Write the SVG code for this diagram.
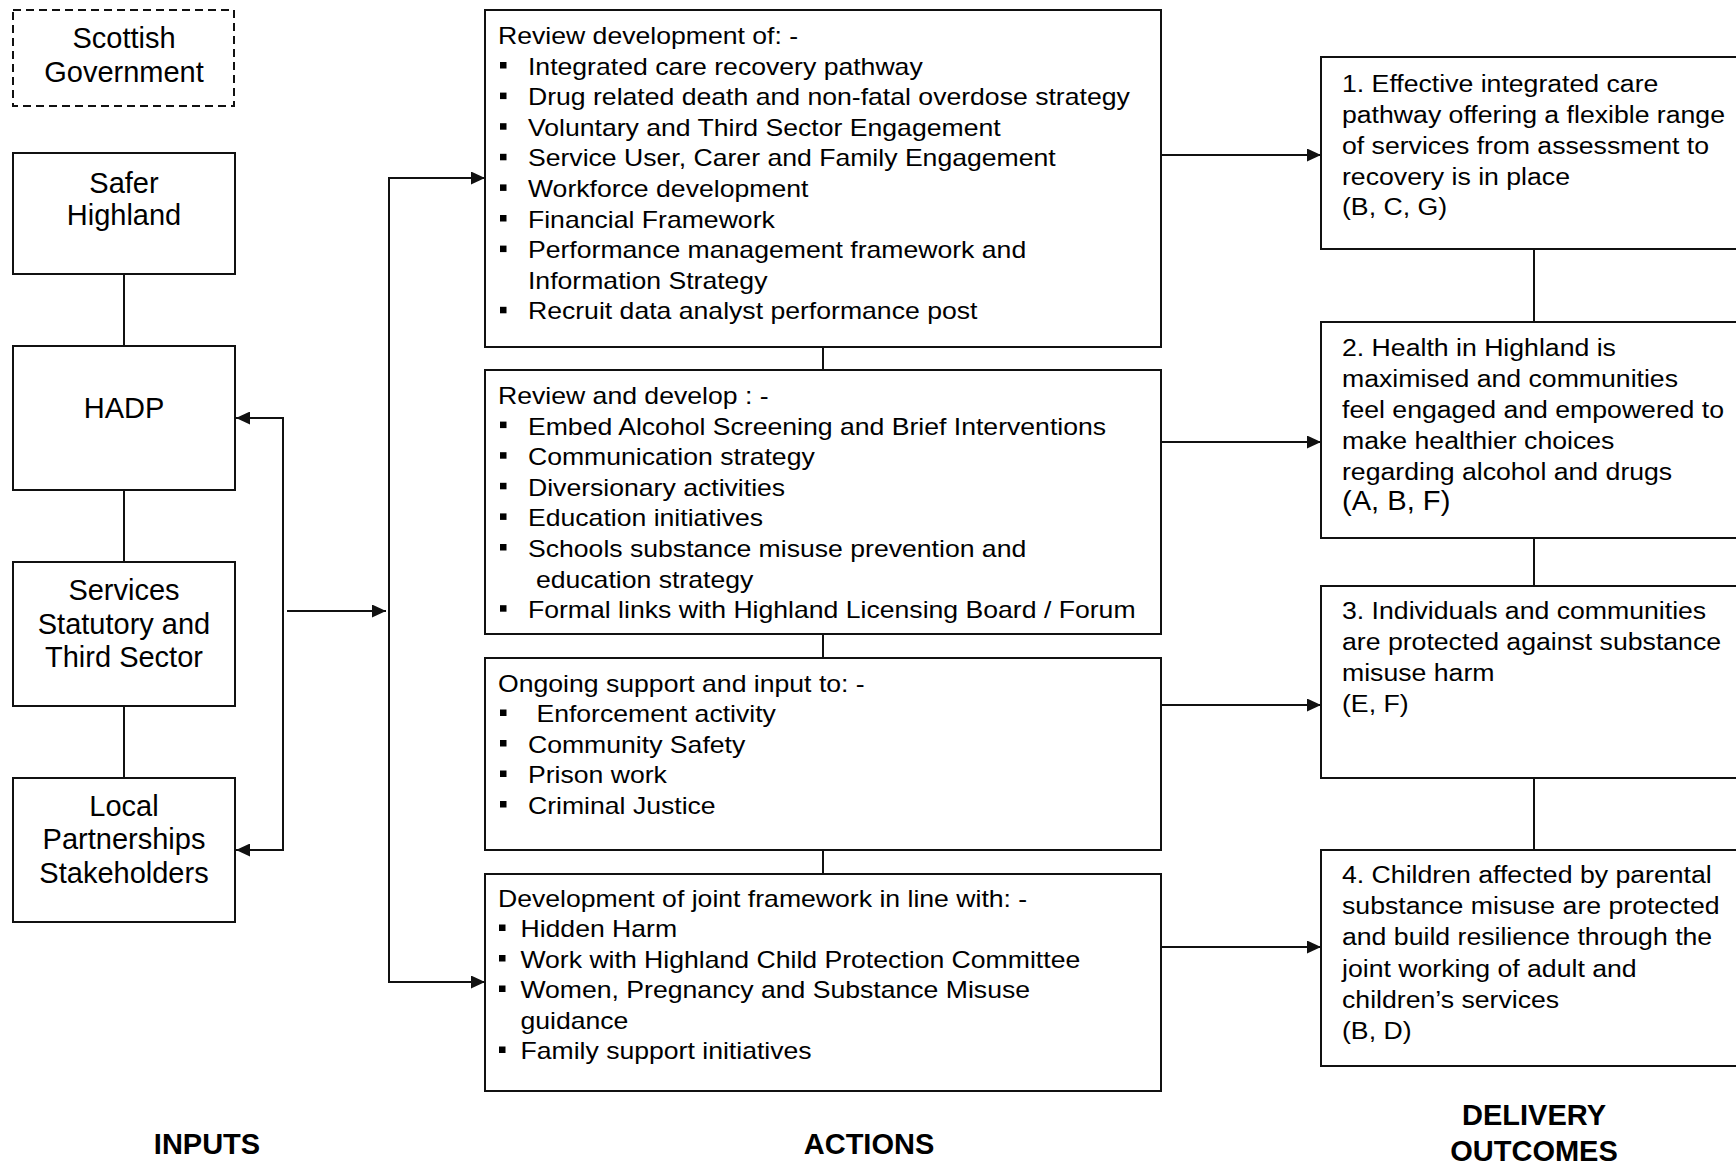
<svg xmlns="http://www.w3.org/2000/svg" width="1736" height="1165" viewBox="0 0 1736 1165">
<style>
.box{fill:#fff;stroke:#111;stroke-width:2}
.dash{fill:#fff;stroke:#111;stroke-width:2;stroke-dasharray:8 5}
.conn{fill:none;stroke:#111;stroke-width:2}
.lbl{font-family:"Liberation Sans",Arial,sans-serif;font-size:29px;text-anchor:middle;fill:#000}
.act{font-family:"Liberation Sans",Arial,sans-serif;font-size:23px;fill:#000}
.out{font-family:"Liberation Sans",Arial,sans-serif;font-size:23.5px;fill:#000}
.hdr{font-family:"Liberation Sans",Arial,sans-serif;font-size:29px;font-weight:bold;text-anchor:middle;fill:#000}
.bul{fill:#000}
</style>
<defs>
<marker id="ah" markerUnits="userSpaceOnUse" markerWidth="14" markerHeight="13" refX="14" refY="6.5" orient="auto-start-reverse">
<path d="M0,0 L14,6.5 L0,13 z" fill="#111"/>
</marker>
<clipPath id="clipB"><rect x="486" y="371" width="674" height="252"/></clipPath>
</defs>
<rect width="1736" height="1165" fill="#fff"/>

<g id="connectors">
<line class="conn" x1="124" y1="274" x2="124" y2="346"/>
<line class="conn" x1="124" y1="490" x2="124" y2="562"/>
<line class="conn" x1="124" y1="706" x2="124" y2="778"/>
<path class="conn" d="M236,418 L283,418 L283,850 L236,850" marker-start="url(#ah)" marker-end="url(#ah)"/>
<line class="conn" x1="287" y1="611" x2="386" y2="611" marker-end="url(#ah)"/>
<path class="conn" d="M485,178 L389,178 L389,982 L485,982" marker-start="url(#ah)" marker-end="url(#ah)"/>
<line class="conn" x1="823" y1="347" x2="823" y2="370"/>
<line class="conn" x1="823" y1="634" x2="823" y2="658"/>
<line class="conn" x1="823" y1="850" x2="823" y2="874"/>
<line class="conn" x1="1162" y1="155" x2="1321" y2="155" marker-end="url(#ah)"/>
<line class="conn" x1="1162" y1="442" x2="1321" y2="442" marker-end="url(#ah)"/>
<line class="conn" x1="1162" y1="705" x2="1321" y2="705" marker-end="url(#ah)"/>
<line class="conn" x1="1162" y1="947" x2="1321" y2="947" marker-end="url(#ah)"/>
<line class="conn" x1="1534" y1="249" x2="1534" y2="322"/>
<line class="conn" x1="1534" y1="538" x2="1534" y2="586"/>
<line class="conn" x1="1534" y1="778" x2="1534" y2="850"/>
</g>

<g id="scottish-government">
<rect class="dash" x="13" y="10" width="221" height="96"/>
<text class="lbl" x="124" y="48">Scottish</text>
<text class="lbl" x="124" y="82">Government</text>
</g>
<g id="safer-highland">
<rect class="box" x="13" y="153" width="222" height="121"/>
<text class="lbl" x="124" y="193">Safer</text>
<text class="lbl" x="124" y="225">Highland</text>
</g>
<g id="hadp">
<rect class="box" x="13" y="346" width="222" height="144"/>
<text class="lbl" x="124" y="418">HADP</text>
</g>
<g id="services">
<rect class="box" x="13" y="562" width="222" height="144"/>
<text class="lbl" x="124" y="600">Services</text>
<text class="lbl" x="124" y="634">Statutory and</text>
<text class="lbl" x="124" y="667">Third Sector</text>
</g>
<g id="local-partnerships">
<rect class="box" x="13" y="778" width="222" height="144"/>
<text class="lbl" x="124" y="816">Local</text>
<text class="lbl" x="124" y="849">Partnerships</text>
<text class="lbl" x="124" y="883">Stakeholders</text>
</g>

<g id="action-review-development">
<rect class="box" x="485" y="10" width="676" height="337"/>
<rect class="bul" x="500" y="62" width="6.5" height="6.5"/>
<rect class="bul" x="500" y="92.6" width="6.5" height="6.5"/>
<rect class="bul" x="500" y="123.2" width="6.5" height="6.5"/>
<rect class="bul" x="500" y="153.8" width="6.5" height="6.5"/>
<rect class="bul" x="500" y="184.4" width="6.5" height="6.5"/>
<rect class="bul" x="500" y="215" width="6.5" height="6.5"/>
<rect class="bul" x="500" y="245.6" width="6.5" height="6.5"/>
<rect class="bul" x="500" y="306.8" width="6.5" height="6.5"/>
<g transform="translate(498 0) scale(1.157 1)">
<text class="act" x="0" y="44">Review development of: -</text>
<text class="act" x="25.9" y="74.6">Integrated care recovery pathway</text>
<text class="act" x="25.9" y="105.2">Drug related death and non-fatal overdose strategy</text>
<text class="act" x="25.9" y="135.8">Voluntary and Third Sector Engagement</text>
<text class="act" x="25.9" y="166.4">Service User, Carer and Family Engagement</text>
<text class="act" x="25.9" y="197">Workforce development</text>
<text class="act" x="25.9" y="227.6">Financial  Framework</text>
<text class="act" x="25.9" y="258.2">Performance management framework and</text>
<text class="act" x="25.9" y="288.8">Information Strategy</text>
<text class="act" x="25.9" y="319.4">Recruit data analyst performance post</text>
</g>
</g>

<g id="action-review-develop">
<rect class="box" x="485" y="370" width="676" height="264"/>
<rect class="bul" x="500" y="421.6" width="6.5" height="6.5"/>
<rect class="bul" x="500" y="452.2" width="6.5" height="6.5"/>
<rect class="bul" x="500" y="482.8" width="6.5" height="6.5"/>
<rect class="bul" x="500" y="513.4" width="6.5" height="6.5"/>
<rect class="bul" x="500" y="544" width="6.5" height="6.5"/>
<rect class="bul" x="500" y="605.2" width="6.5" height="6.5"/>
<g clip-path="url(#clipB)">
<g transform="translate(498 0) scale(1.157 1)">
<text class="act" x="0" y="404">Review and develop : -</text>
<text class="act" x="25.9" y="434.6">Embed Alcohol Screening and Brief Interventions</text>
<text class="act" x="25.9" y="465.2">Communication strategy</text>
<text class="act" x="25.9" y="495.8">Diversionary activities</text>
<text class="act" x="25.9" y="526.4">Education initiatives</text>
<text class="act" x="25.9" y="557">Schools substance misuse prevention and</text>
<text class="act" x="32.8" y="587.6">education strategy</text>
<text class="act" x="25.9" y="618.2">Formal links with Highland Licensing Board / Forum</text>
</g>
</g>
</g>

<g id="action-ongoing-support">
<rect class="box" x="485" y="658" width="676" height="192"/>
<rect class="bul" x="500" y="709.5" width="6.5" height="6.5"/>
<rect class="bul" x="500" y="740" width="6.5" height="6.5"/>
<rect class="bul" x="500" y="770.5" width="6.5" height="6.5"/>
<rect class="bul" x="500" y="801" width="6.5" height="6.5"/>
<g transform="translate(498 0) scale(1.157 1)">
<text class="act" x="0" y="692">Ongoing support and input to: -</text>
<text class="act" x="33.2" y="722.5">Enforcement activity</text>
<text class="act" x="25.9" y="753">Community Safety</text>
<text class="act" x="25.9" y="783.5">Prison work</text>
<text class="act" x="25.9" y="814">Criminal Justice</text>
</g>
</g>

<g id="action-joint-framework">
<rect class="box" x="485" y="874" width="676" height="217"/>
<rect class="bul" x="499" y="924.5" width="6.5" height="6.5"/>
<rect class="bul" x="499" y="955" width="6.5" height="6.5"/>
<rect class="bul" x="499" y="985.5" width="6.5" height="6.5"/>
<rect class="bul" x="499" y="1046.5" width="6.5" height="6.5"/>
<g transform="translate(498 0) scale(1.157 1)">
<text class="act" x="0" y="907">Development of joint framework in line with: -</text>
<text class="act" x="19.4" y="937.5">Hidden Harm</text>
<text class="act" x="19.4" y="968">Work with Highland Child Protection Committee</text>
<text class="act" x="19.4" y="998.5">Women, Pregnancy and Substance Misuse</text>
<text class="act" x="19.4" y="1029">guidance</text>
<text class="act" x="19.4" y="1059.5">Family support initiatives</text>
</g>
</g>

<g id="outcome-1">
<rect class="box" x="1321" y="57" width="430" height="192"/>
<g transform="translate(1342 0) scale(1.134 1)">
<text class="out" x="0" y="92.5">1. Effective integrated care</text>
<text class="out" x="0" y="123.2">pathway offering a flexible range</text>
<text class="out" x="0" y="154">of services from assessment to</text>
<text class="out" x="0" y="184.7">recovery is in place</text>
<text class="out" x="0" y="215.5">(B, C, G)</text>
</g>
</g>
<g id="outcome-2">
<rect class="box" x="1321" y="322" width="430" height="216"/>
<g transform="translate(1342 0) scale(1.134 1)">
<text class="out" x="0" y="356">2. Health in Highland is</text>
<text class="out" x="0" y="387">maximised and communities</text>
<text class="out" x="0" y="418">feel engaged and empowered to</text>
<text class="out" x="0" y="449">make healthier choices</text>
<text class="out" x="0" y="480">regarding alcohol and drugs</text>
</g>
<text class="out" transform="translate(1342 510) scale(1.04 1)" style="font-size:28px">(A, B, F)</text>
</g>
<g id="outcome-3">
<rect class="box" x="1321" y="586" width="430" height="192"/>
<g transform="translate(1342 0) scale(1.134 1)">
<text class="out" x="0" y="619.5">3. Individuals and communities</text>
<text class="out" x="0" y="650.5">are protected against substance</text>
<text class="out" x="0" y="681.3">misuse harm</text>
<text class="out" x="0" y="712">(E, F)</text>
</g>
</g>
<g id="outcome-4">
<rect class="box" x="1321" y="850" width="430" height="216"/>
<g transform="translate(1342 0) scale(1.134 1)">
<text class="out" x="0" y="883">4. Children affected by parental</text>
<text class="out" x="0" y="914.2">substance misuse are protected</text>
<text class="out" x="0" y="945.4">and build resilience through the</text>
<text class="out" x="0" y="976.6">joint working of adult and</text>
<text class="out" x="0" y="1007.8">children’s services</text>
<text class="out" x="0" y="1039">(B, D)</text>
</g>
</g>

<g id="column-headings">
<text class="hdr" x="207" y="1154">INPUTS</text>
<text class="hdr" x="869" y="1154">ACTIONS</text>
<text class="hdr" x="1534" y="1125">DELIVERY</text>
<text class="hdr" x="1534" y="1161">OUTCOMES</text>
</g>
</svg>
